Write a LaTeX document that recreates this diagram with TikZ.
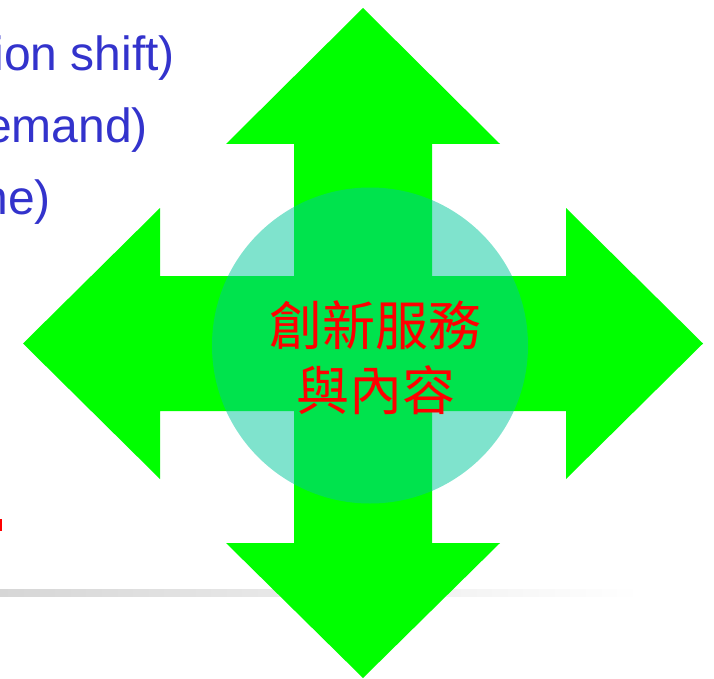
\documentclass[tikz,border=0pt]{standalone}
\usepackage{fontspec}
\setmainfont{Liberation Sans}
\newfontfamily\cjkfont{Noto Sans CJK TC}
\definecolor{arrowgreen}{RGB}{0,255,0}
\definecolor{circteal}{RGB}{0,200,155}
\definecolor{txtblue}{RGB}{51,51,204}
\definecolor{bandgray}{RGB}{214,214,214}
\tikzset{
  bluetxt/.style={text=txtblue, font=\fontsize{48}{48}\selectfont, inner sep=0pt, anchor=base east},
  cjktxt/.style={text=red, font=\cjkfont\fontsize{53}{53}\selectfont, inner sep=0pt},
}
\begin{document}
\begin{tikzpicture}[x=1pt,y=-1pt]
\useasboundingbox (0,0) rectangle (714,679);
% gray gradient band
\shade[left color=bandgray, right color=white] (0,589) rectangle (640,596);
% four-way arrow
\fill[arrowgreen] (363,8) -- (500,144) -- (432,144) -- (432,276) -- (566,276) -- (566,208)
  -- (703,343.5) -- (566,479) -- (566,411) -- (432,411) -- (432,543) -- (500,543)
  -- (363,678) -- (226,543) -- (294,543) -- (294,411) -- (160,411) -- (160,479)
  -- (23,343.5) -- (160,208) -- (160,276) -- (294,276) -- (294,144) -- (226,144) -- cycle;
% translucent circle
\fill[circteal, fill opacity=0.5] (370,345.5) circle[radius=158];
% center text
\node[cjktxt] (l1) at (375.5,325) {創新服務};
\node[cjktxt] (l2) at (375.5,390) {與內容};
% cropped blue text
\node[bluetxt] (b1) at (175,71) {ion shift)};
\node[bluetxt] (b2) at (148,143) {emand)};
\node[bluetxt] (b3) at (51,214) {ne)};
% red sliver of a cropped letter
\fill[red] (0,519) rectangle (1.5,531);
\end{tikzpicture}
\end{document}
